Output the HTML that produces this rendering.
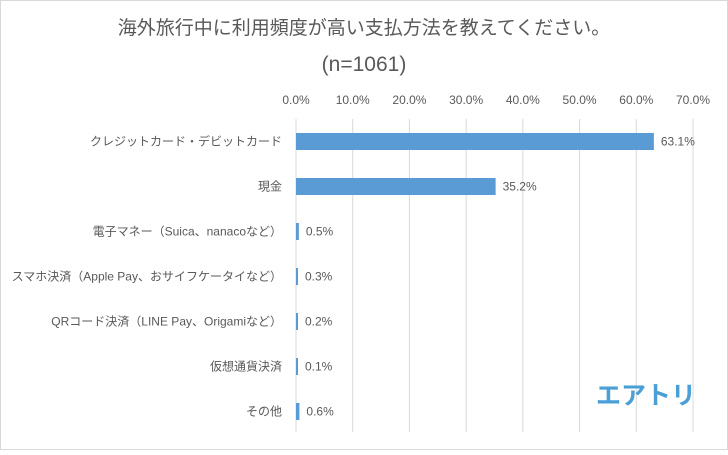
<!DOCTYPE html>
<html><head><meta charset="utf-8"><style>
body{margin:0;background:#fff}
svg text{font-family:"Liberation Sans","Noto Sans CJK JP",sans-serif;fill:#595959}
</style></head><body>
<svg id="c" width="728" height="450" viewBox="0 0 728 450">
<rect x="0.5" y="0.5" width="727" height="449" fill="#fff" stroke="#d9d9d9"/>
<text x="364" y="34" text-anchor="middle" font-size="19">海外旅行中に利用頻度が高い支払方法を教えてください。</text>
<text x="364" y="71" text-anchor="middle" font-size="21">(n=1061)</text>
<g id="grid"></g><g id="bars"></g>
<text x="646" y="404" text-anchor="middle" font-size="25" font-weight="bold" style="fill:#4a9fd6">エアトリ</text>
</svg>
<script>
const categories=["クレジットカード・デビットカード","現金","電子マネー（Suica、nanacoなど）","スマホ決済（Apple Pay、おサイフケータイなど）","QRコード決済（LINE Pay、Origamiなど）","仮想通貨決済","その他"];
const values=[63.1,35.2,0.5,0.3,0.2,0.1,0.6];
const ticks=[0,10,20,30,40,50,60,70];
const ns="http://www.w3.org/2000/svg";
const x0=296,x1=693,yTop=119,yBot=432,maxV=70;
const xs=v=>x0+(x1-x0)*v/maxV;
const yc=i=>141.5+i*45;
function mk(t,a,p){const e=document.createElementNS(ns,t);for(const k in a)e.setAttribute(k,a[k]);p.appendChild(e);return e;}
const g=document.getElementById('grid'),b=document.getElementById('bars');
ticks.forEach(t=>{
 const l=mk('line',{x1:xs(t),x2:xs(t),y1:yTop,y2:yBot,stroke:'#d9d9d9'},g);
 
 
 const tx=mk('text',{x:xs(t),y:104,'text-anchor':'middle','font-size':12},g);
 tx.textContent=t.toFixed(1)+'%';
 
 
});
categories.forEach((c,i)=>{
 const y=yc(i);
 const r=mk('rect',{x:x0,y:y-8.5,width:Math.max(xs(values[i])-x0,2),height:17,fill:'#5b9bd5'},b);
 
 
 const lb=mk('text',{x:282,y:y+4,'text-anchor':'end','font-size':12},b);
 lb.textContent=c;
 
 
 const v=mk('text',{x:Math.max(xs(values[i]),x0+2)+7,y:y+4,'font-size':12},b);
 v.textContent=values[i].toFixed(1)+'%';
 
 
});
</script>
</body></html>
